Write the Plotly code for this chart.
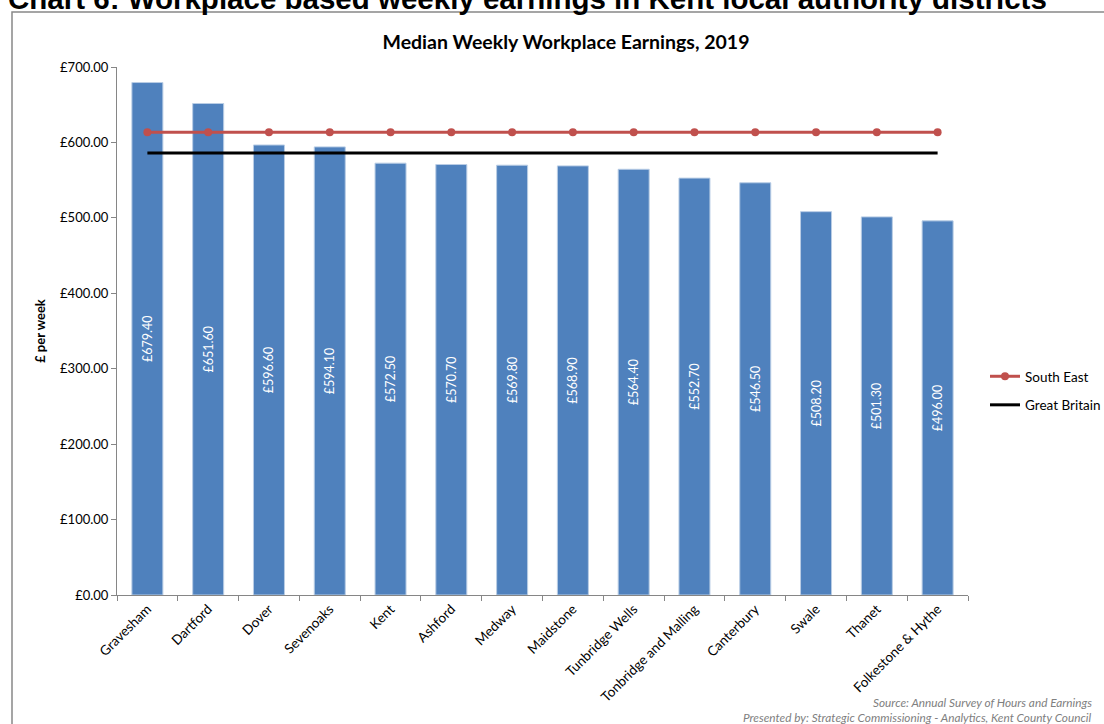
import plotly.graph_objects as go

districts = ["Gravesham", "Dartford", "Dover", "Sevenoaks", "Kent", "Ashford",
             "Medway", "Maidstone", "Tunbridge Wells", "Tonbridge and Malling",
             "Canterbury", "Swale", "Thanet", "Folkestone & Hythe"]
earnings = [679.40, 651.60, 596.60, 594.10, 572.50, 570.70, 569.80, 568.90,
            564.40, 552.70, 546.50, 508.20, 501.30, 496.00]
south_east = [613.5] * len(districts)
great_britain = [586.0] * len(districts)

font_main = "Lato, 'Open Sans', sans-serif"

fig = go.Figure()
fig.add_trace(go.Bar(x=districts,
                     y=earnings,
                     name="Earnings",
                     showlegend=False,
                     marker=dict(color="#4F81BD", line=dict(color="#B9CDE5", width=1)),
                     text=["£%.2f" % v for v in earnings],
                     textposition="inside",
                     insidetextanchor="middle",
                     textangle=-90,
                     textfont=dict(color="white", size=12.5, family=font_main)))
fig.add_trace(go.Scatter(x=districts,
                         y=south_east,
                         mode="lines+markers",
                         name="South East",
                         legendgroup="se",
                         line=dict(color="#C0504D", width=3),
                         marker=dict(color="#C0504D", size=8)))
fig.add_trace(go.Scatter(x=districts,
                         y=great_britain,
                         mode="lines",
                         name="Great Britain",
                         legendgroup="gb",
                         line=dict(color="black", width=3)))

fig.update_layout(width=1104, height=724, autosize=False,
                  margin=dict(l=117, r=136, t=67, b=129),
                  paper_bgcolor="white", plot_bgcolor="white",
                  font=dict(family=font_main, size=12, color="black"),
                  bargap=0.49,
                  title=dict(text="<b>Median Weekly Workplace Earnings, 2019</b>",
                             x=566 / 1104, xanchor="center", y=1 - 42 / 724, yanchor="middle",
                             font=dict(size=19.5, family=font_main)),
                  legend=dict(xref="container", yref="container",
                              x=985 / 1104, xanchor="left", y=1 - 391 / 724, yanchor="middle",
                              font=dict(size=13.5), tracegroupgap=8,
                              bgcolor="rgba(0,0,0,0)"),
                  )
fig.update_yaxes(range=[0, 700], dtick=100, tickprefix="£", tickformat=".2f",
                 showgrid=False, showline=True, linecolor="#868686", linewidth=1,
                 ticks="outside", ticklen=5, tickcolor="#868686",
                 tickfont=dict(size=13),
                 title=dict(text="<b>£ per week</b>", font=dict(size=13), standoff=11))
fig.update_xaxes(range=[-0.5, len(districts) - 0.5],
                 tickangle=-45, tickfont=dict(size=13.5), showgrid=False,
                 showline=True, linecolor="#868686", linewidth=1,
                 ticks="outside", ticklen=5, tickcolor="#868686",
                 tickson="boundaries")

# outer chart frame (runs off the right and bottom of the page)
fig.add_shape(type="rect", xref="paper", yref="paper",
              x0=(12 - 117) / 851, x1=(1115 - 117) / 851,
              y0=(595 - 735) / 528, y1=(595 - 12) / 528,
              line=dict(color="#888888", width=1.5), layer="below")

fig.add_annotation(text="<b>Chart 6: Workplace based weekly earnings in Kent local authority districts</b>",
                   xref="paper", yref="paper", x=(527 - 117) / 851, y=(595 - 17) / 528,
                   xanchor="center", yanchor="bottom", showarrow=False,
                   font=dict(family="Liberation Sans, Arial, sans-serif", size=29.5, color="black"))
fig.add_annotation(text="<i>Source: Annual Survey of Hours and Earnings</i>",
                   xref="paper", yref="paper", x=(1094 - 117) / 851, y=(595 - 702) / 528,
                   xanchor="right", yanchor="middle", showarrow=False,
                   font=dict(size=11.8, color="#808080"))
fig.add_annotation(text="<i>Presented by: Strategic Commissioning - Analytics, Kent County Council</i>",
                   xref="paper", yref="paper", x=(1094 - 117) / 851, y=(595 - 717) / 528,
                   xanchor="right", yanchor="middle", showarrow=False,
                   font=dict(size=11.8, color="#808080"))

# drop the default page margin and scrollbars so the figure sits at the window origin
fig.write_html("out.html",
               config=dict(displayModeBar=False, responsive=False),
               post_script="document.body.style.margin = '0';"
                           "document.documentElement.style.overflow = 'hidden';")
